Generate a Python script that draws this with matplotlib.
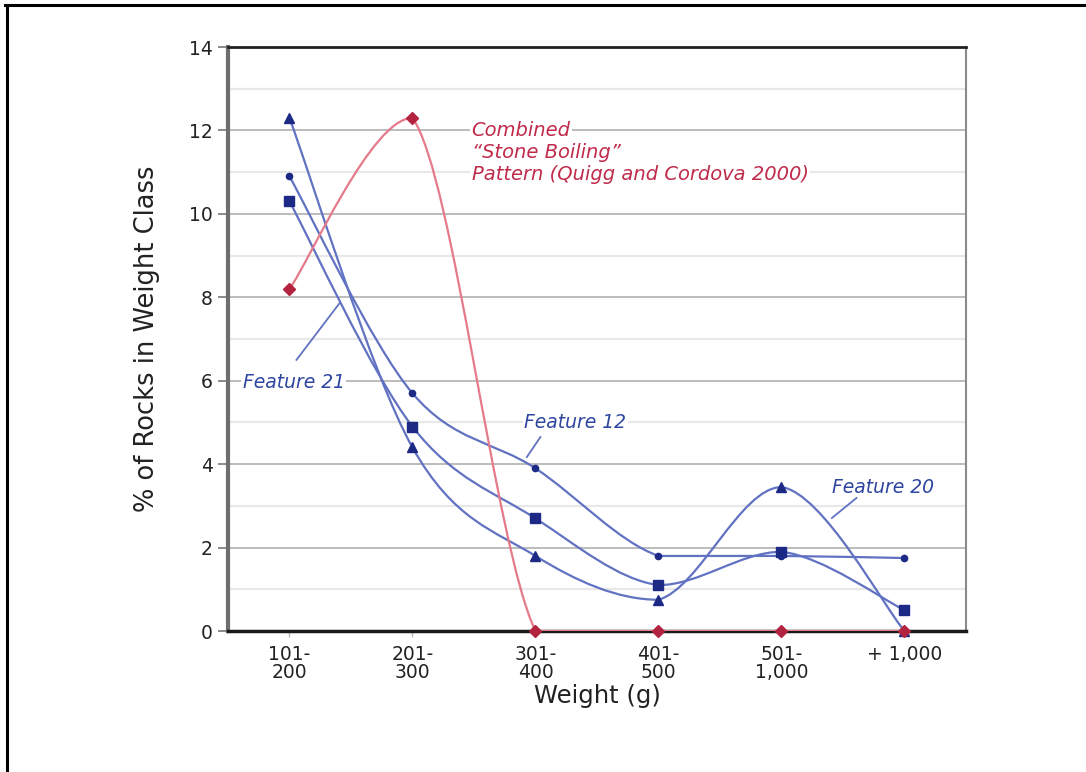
import numpy as np
import matplotlib.pyplot as plt
from matplotlib.path import Path
from matplotlib.patches import PathPatch
from matplotlib.lines import Line2D

# weight classes and series values (% of rocks)
classes = ["101-\n200", "201-\n300", "301-\n400", "401-\n500", "501-\n1,000", "+ 1,000"]
feat12 = [10.9, 5.7, 3.9, 1.8, 1.8, 1.75]      # small circles
feat21 = [10.3, 4.9, 2.7, 1.1, 1.9, 0.5]       # squares
feat20 = [12.3, 4.4, 1.8, 0.75, 3.45, 0.0]     # triangles
stone_boiling = [8.2, 12.3, 0.0, 0.0, 0.0, 0.0]  # red diamonds

blue_line = "#6172c2"
blue_mark = "#1c2a86"
red_line = "#e57a8a"
red_mark = "#b3223f"
blue_txt = "#2f46a0"
red_txt = "#c02b4b"

plt.rcParams['font.family'] = ['DejaVu Sans']


def smooth_path(x, y):
    # bezier through the points; catmull-rom handles, clamped so a segment
    # never goes past its own end values (no overshoot)
    pts = np.column_stack([x, y]).astype(float)
    n = len(pts)
    verts = [pts[0]]
    codes = [Path.MOVETO]
    for i in range(n - 1):
        p0 = pts[i - 1] if i > 0 else pts[i]
        p1 = pts[i]
        p2 = pts[i + 1]
        p3 = pts[i + 2] if i + 2 < n else pts[i + 1]
        c1 = p1 + (p2 - p0) / 6.0
        c2 = p2 - (p3 - p1) / 6.0
        lo, hi = min(p1[1], p2[1]), max(p1[1], p2[1])
        c1[1] = np.clip(c1[1], lo, hi)
        c2[1] = np.clip(c2[1], lo, hi)
        verts += [c1, c2, p2]
        codes += [Path.CURVE4] * 3
    return Path(verts, codes)


fig = plt.figure(figsize=(10.86, 7.72), dpi=100)
ax = fig.add_axes([0.2099, 0.1826, 0.6796, 0.7565])

x = np.arange(len(classes))

# gridlines
for v in range(1, 14):
    if v % 2 == 0:
        ax.axhline(v, color="#bcbcbc", lw=1.4, zorder=0)
    else:
        ax.axhline(v, color="#e8e8e8", lw=1.6, zorder=0)

series = [
    (feat20, blue_line, blue_mark, "^", 7),
    (feat21, blue_line, blue_mark, "s", 6.5),
    (feat12, blue_line, blue_mark, "o", 4.5),
    (stone_boiling, red_line, red_mark, "D", 6),
]
for vals, lc, mc, mk, ms in series:
    ax.add_patch(PathPatch(smooth_path(x, vals), facecolor="none", edgecolor=lc, lw=1.6, zorder=3))
    ax.plot(x, vals, ls="none", marker=mk, ms=ms, color=mc, zorder=4, clip_on=False)

ax.set_xlim(-0.5, 5.5)
ax.set_ylim(0, 14)
ax.set_yticks(range(0, 15, 2))
ax.set_xticks(x)
ax.set_xticklabels(classes, fontsize=13.5, color="#222222", linespacing=0.95)
ax.tick_params(axis="y", labelsize=13.5, length=7, width=1.2, color="#777777", labelcolor="#222222", pad=4)
ax.tick_params(axis="x", length=4, width=1, color="#bbbbbb", pad=6)

ax.spines["left"].set_color("#6e6e6e")
ax.spines["left"].set_linewidth(3)
ax.spines["bottom"].set_color("#1a1a1a")
ax.spines["bottom"].set_linewidth(2.5)
ax.spines["top"].set_color("#222222")
ax.spines["top"].set_linewidth(2)
ax.spines["right"].set_color("#8a8a8a")
ax.spines["right"].set_linewidth(1.5)

ax.set_ylabel("% of Rocks in Weight Class", fontsize=18.5, color="#222222", labelpad=21)
ax.set_xlabel("Weight (g)", fontsize=17.5, color="#222222", labelpad=1)

bb = dict(facecolor="white", edgecolor="none", pad=1.0)

# red annotation
for txt, yy in [("Combined", 12.0), ("\u201cStone Boiling\u201d", 11.47), ("Pattern (Quigg and Cordova 2000)", 10.94)]:
    ax.text(1.48, yy, txt, fontsize=14, style="italic", color=red_txt, va="center", ha="left", bbox=bb, zorder=5)

# feature labels with leader lines
ax.text(-0.38, 5.95, "Feature 21", fontsize=13.5, style="italic", color=blue_txt, va="center", ha="left", bbox=bb, zorder=5)
ax.add_line(Line2D([0.057, 0.41], [6.5, 7.87], color=blue_line, lw=1.3, zorder=5))

ax.text(1.91, 4.99, "Feature 12", fontsize=13.5, style="italic", color=blue_txt, va="center", ha="left", bbox=bb, zorder=5)
ax.add_line(Line2D([2.04, 1.93], [4.65, 4.17], color=blue_line, lw=1.3, zorder=5))

ax.text(4.41, 3.43, "Feature 20", fontsize=13.5, style="italic", color=blue_txt, va="center", ha="left", bbox=bb, zorder=5)
ax.add_line(Line2D([4.61, 4.41], [3.19, 2.71], color=blue_line, lw=1.3, zorder=5))

# figure frame (top and left edges)
fig.add_artist(Line2D([0.005, 1.0], [0.9935, 0.9935], color="black", lw=2.2, transform=fig.transFigure))
fig.add_artist(Line2D([0.0060, 0.0060], [0.0, 0.9935], color="black", lw=2.2, transform=fig.transFigure))

fig.savefig("out.png", dpi=100)
